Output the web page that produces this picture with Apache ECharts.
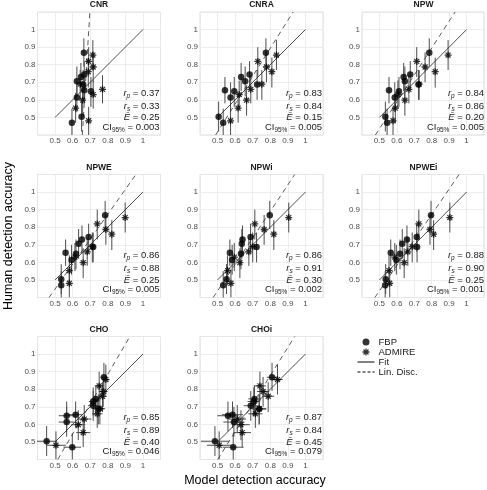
<!DOCTYPE html>
<html><head><meta charset="utf-8">
<script src="https://cdn.jsdelivr.net/npm/echarts@6/dist/echarts.min.js"></script>
<style>html,body{margin:0;padding:0;background:#fff}#c{width:487px;height:490px}</style>
</head><body><div id="c"></div>
<script>
// ---------- DATA ----------
const panels = ['CNR','CNRA','NPW','NPWE','NPWi','NPWEi','CHO','CHOi'];
const axisTicks = [0.5,0.6,0.7,0.8,0.9,1];

// human detection accuracy (shared by all panels)
const humanFBP   = [0.868,0.745,0.730,0.706,0.687,0.655,0.649,0.613,0.504,0.470];
const humanFBPLo = [0.790,0.660,0.650,0.620,0.600,0.580,0.560,0.530,0.420,0.390];
const humanFBPHi = [0.950,0.820,0.810,0.790,0.770,0.730,0.730,0.700,0.590,0.550];
const humanADM   = [0.855,0.819,0.787,0.760,0.689,0.660,0.630,0.598,0.553,0.481];
const humanADMLo = [0.770,0.730,0.700,0.670,0.600,0.580,0.550,0.510,0.470,0.400];
const humanADMHi = [0.940,0.900,0.870,0.840,0.770,0.740,0.710,0.680,0.640,0.560];

// model detection accuracy per panel
const modelFBP = {
  CNR:   [0.664,0.666,0.647,0.624,0.660,0.666,0.704,0.624,0.651,0.596],
  CNRA:  [0.775,0.682,0.634,0.657,0.725,0.542,0.595,0.574,0.506,0.532],
  NPW:   [0.786,0.677,0.639,0.646,0.724,0.555,0.612,0.588,0.534,0.544],
  NPWE:  [0.785,0.691,0.653,0.634,0.717,0.560,0.619,0.594,0.535,0.535],
  NPWi:  [0.797,0.688,0.642,0.638,0.722,0.570,0.633,0.583,0.551,0.532],
  NPWEi: [0.796,0.714,0.658,0.631,0.716,0.565,0.618,0.597,0.536,0.533],
  CHO:   [0.778,0.732,0.717,0.717,0.746,0.617,0.566,0.566,0.452,0.598],
  CHOi:  [0.810,0.710,0.706,0.689,0.737,0.585,0.559,0.593,0.485,0.589]
};
const modelADM = {
  CNR:   [0.715,0.691,0.717,0.689,0.643,0.770,0.717,0.657,0.617,0.691],
  CNRA:  [0.835,0.729,0.778,0.809,0.752,0.689,0.623,0.665,0.617,0.574],
  NPW:   [0.894,0.714,0.762,0.820,0.728,0.669,0.606,0.646,0.591,0.578],
  NPWE:  [0.899,0.740,0.789,0.823,0.712,0.683,0.613,0.660,0.581,0.581],
  NPWi:  [0.905,0.712,0.765,0.820,0.700,0.678,0.595,0.627,0.557,0.576],
  NPWEi: [0.904,0.726,0.790,0.811,0.688,0.663,0.588,0.642,0.555,0.559],
  CHO:   [0.789,0.751,0.774,0.770,0.755,0.740,0.666,0.632,0.660,0.505],
  CHOi:  [0.841,0.741,0.759,0.788,0.737,0.715,0.612,0.633,0.640,0.509]
};
// model accuracy CI half-widths (only CHO / CHOi show them)
const modelErrFBP = {
  CHO:  [0.020,0.025,0.025,0.030,0.030,0.040,0.045,0.045,0.060,0.050],
  CHOi: [0.030,0.035,0.035,0.040,0.040,0.060,0.060,0.060,0.080,0.060]
};
const modelErrADM = {
  CHO:  [0.020,0.025,0.025,0.025,0.030,0.030,0.040,0.040,0.040,0.057],
  CHOi: [0.030,0.035,0.035,0.035,0.040,0.040,0.050,0.050,0.050,0.070]
};
// fit (solid) and linear discriminant (dashed) lines
const fitLine = [[0.5,0.5],[1,1]];
const linDisc = {
  CNR:   [[0.655,0.4],[0.698,1.1]],
  CNRA:  [[0.489,0.4],[0.930,1.1]],
  NPW:   [[0.477,0.4],[0.934,1.1]],
  NPWE:  [[0.466,0.4],[0.960,1.1]],
  NPWi:  [[0.475,0.4],[0.939,1.1]],
  NPWEi: [[0.474,0.4],[0.957,1.1]],
  CHO:   [[0.515,0.4],[0.926,1.1]],
  CHOi:  [[0.501,0.4],[0.939,1.1]]
};
// statistics
const rP  = ['0.37','0.83','0.84','0.86','0.86','0.88','0.85','0.87'];
const rS  = ['0.33','0.84','0.86','0.88','0.91','0.90','0.89','0.84'];
const eBar= ['0.25','0.15','0.20','0.25','0.30','0.25','0.40','0.45'];
const ci95= ['0.003','0.005','0.005','0.005','0.002','0.001','0.046','0.079'];

// ---------- LAYOUT ----------
const colLeft = [37.5, 200, 362];
const rowTop = [12, 174.5, 336.5];
const SZ = 123;
const FONT = 'Liberation Sans, Arial, Helvetica, sans-serif';
// asterisk: + and x arms
const STAR = 'path://M0,8.2L20,8.2L20,11.8L0,11.8ZM8.2,0L11.8,0L11.8,20L8.2,20Z' +
  'M4.2,1.7L18.3,15.8L15.8,18.3L1.7,4.2ZM18.3,4.2L4.2,18.3L1.7,15.8L15.8,1.7Z';

function fmt(v){ const r = Math.round(v*100)/100; if (!axisTicks.some(t=>Math.abs(t-r)<1e-6)) return ''; return r===1?'1':r.toFixed(1); }

function renderErr(params, api){
  const x = api.value(0), y = api.value(1);
  const lo = api.coord([x, api.value(2)]), hi = api.coord([x, api.value(3)]);
  const ch = [{type:'line', shape:{x1:lo[0],y1:lo[1],x2:hi[0],y2:hi[1]}, style:{stroke:'#4d4d4d', lineWidth:1}}];
  const xl = api.value(4), xh = api.value(5);
  if (xh - xl > 1e-6){
    const a = api.coord([xl,y]), b = api.coord([xh,y]);
    ch.push({type:'line', shape:{x1:a[0],y1:a[1],x2:b[0],y2:b[1]}, style:{stroke:'#4d4d4d', lineWidth:1}});
  }
  return {type:'group', children: ch};
}

const grids=[], xAxes=[], yAxes=[], series=[], graphics=[];
panels.forEach((name,i)=>{
  const r = Math.floor(i/3), c = i%3;
  const L = colLeft[c], T = rowTop[r];
  grids.push({left:L, top:T, width:SZ, height:SZ, show:true, borderColor:'#d6d6d6', borderWidth:0.8, containLabel:false});
  const axBase = {gridIndex:i, type:'value', min:0.4, max:1.1, interval:0.1,
    axisLine:{show:false}, axisTick:{show:false},
    splitLine:{show:true, lineStyle:{color:'#e8e8e8', width:0.8}},
    axisLabel:{fontSize:8, color:'#4d4d4d', fontFamily:FONT, margin:2, formatter:fmt, showMinLabel:true, showMaxLabel:true}};
  xAxes.push(Object.assign({}, axBase));
  yAxes.push(Object.assign({}, axBase));

  const mF = modelFBP[name], mA = modelADM[name];
  const eF = modelErrFBP[name] || mF.map(()=>0), eA = modelErrADM[name] || mA.map(()=>0);
  const errData = [];
  mF.forEach((x,k)=>errData.push([x, humanFBP[k], humanFBPLo[k], humanFBPHi[k], x-eF[k], x+eF[k]]));
  mA.forEach((x,k)=>errData.push([x, humanADM[k], humanADMLo[k], humanADMHi[k], x-eA[k], x+eA[k]]));

  series.push({type:'custom', xAxisIndex:i, yAxisIndex:i, renderItem:renderErr, data:errData, clip:true, silent:true, z:2,
    encode:{x:0, y:1}});
  series.push({name:'Fit', type:'line', xAxisIndex:i, yAxisIndex:i, data:fitLine, symbol:'none', silent:true, z:3,
    itemStyle:{color:'#222'}, lineStyle:{color:'#222', width:0.8, type:'solid'}});
  series.push({name:'Lin. Disc.', type:'line', xAxisIndex:i, yAxisIndex:i, data:linDisc[name], symbol:'none', silent:true, z:3,
    itemStyle:{color:'#333'}, lineStyle:{color:'#333', width:0.8, type:[5,4]}});
  series.push({name:'FBP', type:'scatter', xAxisIndex:i, yAxisIndex:i, symbol:'circle', symbolSize:6.5, z:4,
    itemStyle:{color:'#000'}, data:mF.map((x,k)=>[x, humanFBP[k]])});
  series.push({name:'ADMIRE', type:'scatter', xAxisIndex:i, yAxisIndex:i, symbol:STAR, symbolSize:7, z:4,
    itemStyle:{color:'#000'}, data:mA.map((x,k)=>[x, humanADM[k]])});

  // panel title
  graphics.push({type:'text', x:L+SZ/2, y:T-7, style:{text:name, font:'bold 8.5px '+FONT, fill:'#1a1a1a', align:'center', verticalAlign:'middle'}});
  // statistics
  const R = L+SZ-1;
  const rich = {
    n:{fontSize:9.5, fontFamily:FONT, fill:'#1a1a1a', lineHeight:13},
    i:{fontSize:9.5, fontFamily:FONT, fontStyle:'italic', fill:'#1a1a1a', lineHeight:13},
    s:{fontSize:6.5, fontFamily:FONT, fontStyle:'italic', fill:'#1a1a1a', lineHeight:7, verticalAlign:'bottom'},
    c:{fontSize:6.5, fontFamily:FONT, fill:'#1a1a1a', lineHeight:6, verticalAlign:'bottom'}
  };
  const lines = [
    ['{i|r}{s|p}{n| = '+rP[i]+'}', 81],
    ['{i|r}{s|s}{n| = '+rS[i]+'}', 94],
    ['{i|Ē}{n| = '+eBar[i]+'}', 105.5],
    ['{n|CI}{c|95%}{n| = '+ci95[i]+'}', 115]
  ];
  lines.forEach(([t,dy])=>{
    graphics.push({type:'text', x:R, y:T+dy, z:10, style:{text:t, rich:rich, align:'right', verticalAlign:'middle'}});
  });
});

graphics.push({type:'text', x:9, y:236, rotation:Math.PI/2, style:{text:'Human detection accuracy', font:'12.5px '+FONT, fill:'#000', align:'center', verticalAlign:'middle'}});
graphics.push({type:'text', x:255, y:481, style:{text:'Model detection accuracy', font:'12.5px '+FONT, fill:'#000', align:'center', verticalAlign:'middle'}});

const noSym = {color:'rgba(0,0,0,0)', borderWidth:0, opacity:0};
const chart = echarts.init(document.getElementById('c'), null, {renderer:'canvas'});
chart.setOption({
  animation:false,
  backgroundColor:'#fff',
  grid:grids, xAxis:xAxes, yAxis:yAxes, series:series,
  graphic:{elements:graphics},
  legend:{data:[
      {name:'FBP'},
      {name:'ADMIRE'},
      {name:'Fit', itemStyle:noSym, lineStyle:{color:'#000', width:1, type:'solid'}},
      {name:'Lin. Disc.', itemStyle:noSym, lineStyle:{color:'#000', width:1, type:[3,2]}}
    ], orient:'vertical', left:357, top:337, padding:0,
    itemWidth:17, itemHeight:7, itemGap:0, selectedMode:false,
    textStyle:{fontSize:9.5, fontFamily:FONT, color:'#1a1a1a', lineHeight:10, padding:[0,0,0,-1]}}
});
</script></body></html>
